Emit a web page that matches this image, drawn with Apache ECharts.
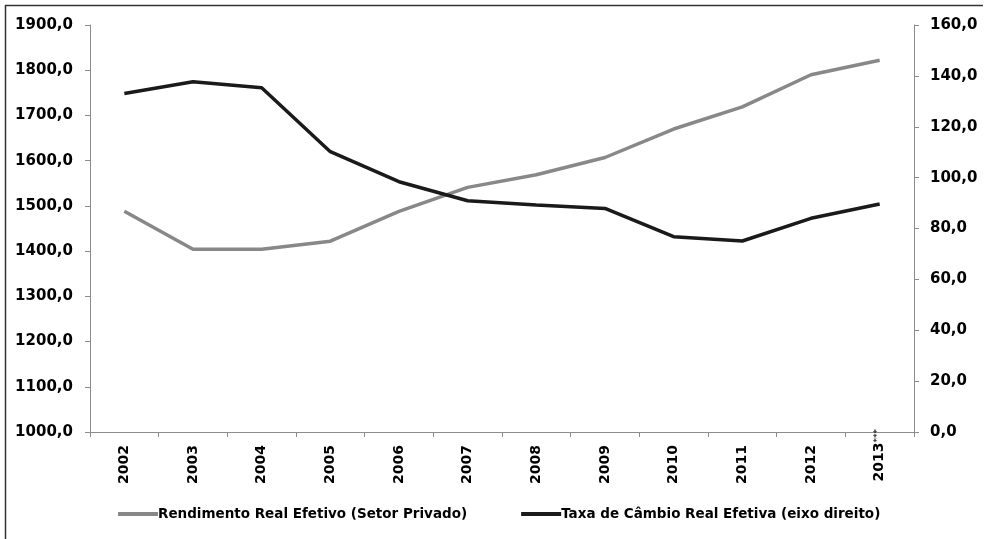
<!DOCTYPE html>
<html>
<head>
<meta charset="utf-8">
<script src="https://cdn.jsdelivr.net/npm/echarts@6/dist/echarts.min.js"></script>
<style>
  html, body { margin: 0; padding: 0; background: #fff; }
  #chart { width: 985px; height: 539px; }
</style>
</head>
<body>
<div id="chart"></div>
<script>
// Anos do eixo horizontal
const anos = ['2002', '2003', '2004', '2005', '2006', '2007', '2008', '2009', '2010', '2011', '2012', '2013***'];

// Rendimento real efetivo do setor privado (eixo esquerdo)
const rendimento = [1488, 1404, 1404, 1422, 1488, 1541, 1569, 1607, 1670, 1719, 1790, 1822];

// Taxa de câmbio real efetiva (eixo direito)
const cambio = [133.1, 137.7, 135.3, 110.2, 98.4, 90.9, 89.2, 87.9, 76.8, 75.1, 84.0, 89.6];

const nomeRend = 'Rendimento Real Efetivo (Setor Privado)';
const nomeCambio = 'Taxa de Câmbio Real Efetiva (eixo direito)';

const FONT = 'DejaVu Sans';
const axisGray = '#8c8c8c';

const fmt = v => v.toFixed(1).replace('.', ',');

// O último ano leva as marcas "***" em sobrescrito, que avançam sobre o eixo
const categorias = anos.map(a => a.endsWith('***')
  ? { value: a, textStyle: { padding: [0, -16, 0, 0] } }
  : a);

const chart = echarts.init(document.getElementById('chart'));
chart.setOption({
  animation: false,
  backgroundColor: '#fff',
  textStyle: { fontFamily: FONT },
  graphic: [
    { type: 'line', shape: { x1: 5, y1: 5.5, x2: 983, y2: 5.5 }, style: { stroke: '#333', lineWidth: 1.5 } },
    { type: 'line', shape: { x1: 5.5, y1: 5, x2: 5.5, y2: 539 }, style: { stroke: '#333', lineWidth: 1.5 } }
  ],
  grid: { left: 90, right: 71, top: 25, bottom: 107, containLabel: false },
  legend: {
    left: 118,
    top: 507,
    padding: 0,
    itemWidth: 40,
    itemHeight: 4,
    itemGap: 54,
    icon: 'rect',
    textStyle: { fontFamily: FONT, fontWeight: 'bold', fontSize: 13.5, color: '#000', padding: [0, 0, 0, -5] },
    data: [nomeRend, nomeCambio]
  },
  xAxis: {
    type: 'category',
    data: categorias,
    boundaryGap: true,
    axisLine: { lineStyle: { color: axisGray, width: 1 } },
    axisTick: { show: true, length: 5, alignWithLabel: false, lineStyle: { color: axisGray } },
    axisLabel: {
      rotate: 90,
      margin: 13,
      interval: 0,
      fontFamily: FONT,
      fontWeight: 'bold',
      fontSize: 14,
      color: '#000',
      formatter: v => v.endsWith('***') ? v.slice(0, -3) + '{s|***}' : v,
      rich: { s: { fontSize: 9, fontWeight: 'normal', color: '#000', verticalAlign: 'top' } }
    },
    splitLine: { show: false }
  },
  yAxis: [
    {
      type: 'value',
      min: 1000,
      max: 1900,
      interval: 100,
      position: 'left',
      axisLine: { show: true, lineStyle: { color: axisGray } },
      axisTick: { show: true, length: 5, lineStyle: { color: axisGray } },
      axisLabel: { margin: 17, fontFamily: FONT, fontWeight: 'bold', fontSize: 15, color: '#000', formatter: fmt },
      splitLine: { show: false }
    },
    {
      type: 'value',
      min: 0,
      max: 160,
      interval: 20,
      position: 'right',
      axisLine: { show: true, lineStyle: { color: axisGray } },
      axisTick: { show: true, length: 5, lineStyle: { color: axisGray } },
      axisLabel: { margin: 16, fontFamily: FONT, fontWeight: 'bold', fontSize: 15, color: '#000', formatter: fmt },
      splitLine: { show: false }
    }
  ],
  series: [
    {
      name: nomeRend,
      type: 'line',
      yAxisIndex: 0,
      data: rendimento,
      symbol: 'none',
      lineStyle: { color: '#888888', width: 3.5 },
      itemStyle: { color: '#888888' }
    },
    {
      name: nomeCambio,
      type: 'line',
      yAxisIndex: 1,
      data: cambio,
      symbol: 'none',
      lineStyle: { color: '#1a1a1a', width: 3.5 },
      itemStyle: { color: '#1a1a1a' }
    }
  ]
});
</script>
</body>
</html>
